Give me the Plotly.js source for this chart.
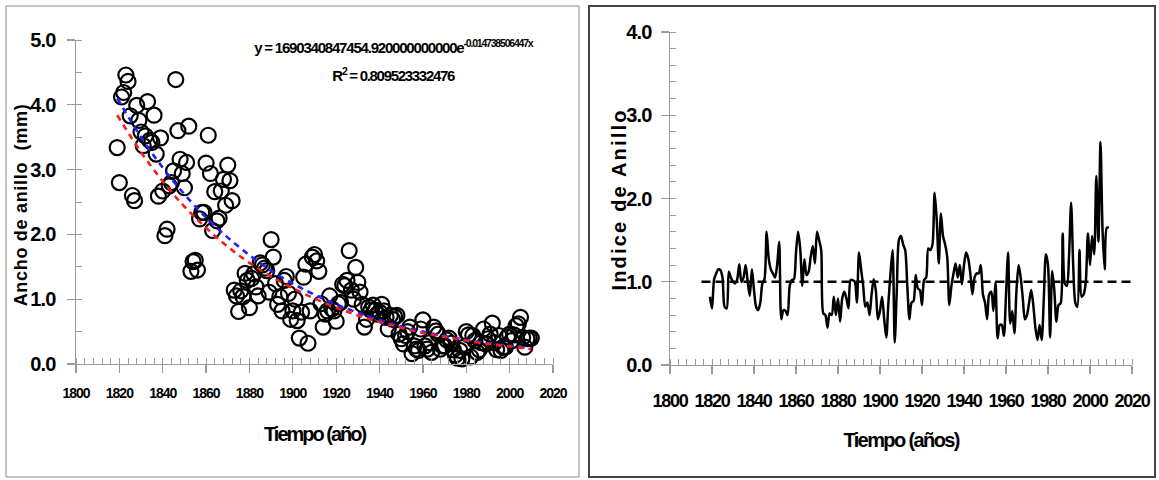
<!DOCTYPE html>
<html>
<head>
<meta charset="utf-8">
<script src="https://cdn.plot.ly/plotly-3.0.1.min.js"></script>
<style>
html,body{margin:0;padding:0;background:#fff;}
#chart{width:1159px;height:480px;}
g.annotation[data-index="0"] text{letter-spacing:-1.2px;}
g.annotation[data-index="1"] text{letter-spacing:-1.3px;}
g.annotation[data-index="2"] text{letter-spacing:-2px;}
g.annotation[data-index="3"] text{letter-spacing:0.7px;}
g.annotation[data-index="4"] text{letter-spacing:-1.6px;}
g.annotation[data-index="5"] text{letter-spacing:2.2px;}
g.xtick text{letter-spacing:-1px;}
g.x2tick text{letter-spacing:-1.3px;}
g.ytick text, g.y2tick text{letter-spacing:-0.8px;}
</style>
</head>
<body>
<div id="chart"></div>
<script>
// ---- Left panel: ring width (mm) ----
const widthYears = [1819,1820,1821,1822,1823,1824,1825,1826,1827,1828,1829,1830,1831,1832,1833,1834,1835,1836,1837,1838,1839,1840,1841,1842,1843,1844,1845,1846,1847,1848,1849,1850,1851,1852,1853,1854,1855,1856,1857,1858,1859,1860,1861,1862,1863,1864,1865,1866,1867,1868,1869,1870,1871,1872,1873,1874,1875,1876,1877,1878,1879,1880,1881,1882,1883,1884,1885,1886,1887,1888,1889,1890,1891,1892,1893,1894,1895,1896,1897,1898,1899,1900,1901,1902,1903,1904,1905,1906,1907,1908,1909,1910,1911,1912,1913,1914,1915,1916,1917,1918,1919,1920,1921,1922,1923,1924,1925,1926,1927,1928,1929,1930,1931,1932,1933,1934,1935,1936,1937,1938,1939,1940,1941,1942,1943,1944,1945,1946,1947,1948,1949,1950,1951,1952,1953,1954,1955,1956,1957,1958,1959,1960,1961,1962,1963,1964,1965,1966,1967,1968,1969,1970,1971,1972,1973,1974,1975,1976,1977,1978,1979,1980,1981,1982,1983,1984,1985,1986,1987,1988,1989,1990,1991,1992,1993,1994,1995,1996,1997,1998,1999,2000,2001,2002,2003,2004,2005,2006,2007,2008,2009,2010];
const ringWidth = [3.34,2.80,4.12,4.19,4.46,4.36,3.83,2.60,2.52,3.99,3.76,3.58,3.37,3.52,4.05,3.45,3.42,3.84,3.24,2.59,3.49,2.67,1.98,2.08,2.75,2.80,2.98,4.39,3.60,3.16,2.94,2.72,3.11,3.67,1.43,1.58,1.60,1.45,2.24,2.34,2.34,3.10,3.53,2.94,2.06,2.66,2.21,2.25,2.67,2.85,2.45,3.07,2.83,2.52,1.14,1.05,0.81,1.13,1.04,1.40,1.29,0.87,1.32,1.39,1.19,1.05,1.56,1.53,1.48,1.44,1.11,1.92,1.65,1.24,0.92,1.04,0.82,1.29,1.35,1.09,0.69,0.82,1.00,0.67,0.40,0.80,1.34,1.54,0.32,0.82,1.65,1.69,1.59,1.43,0.93,0.57,0.77,0.82,1.05,0.85,0.82,0.66,0.93,0.95,1.23,1.21,1.29,1.75,1.14,1.00,1.49,1.26,1.11,0.92,0.57,0.69,0.88,0.83,0.91,0.83,0.77,0.80,0.92,0.82,0.72,0.54,0.75,0.69,0.73,0.75,0.46,0.39,0.31,0.44,0.50,0.57,0.16,0.28,0.23,0.21,0.54,0.68,0.28,0.23,0.33,0.18,0.57,0.51,0.46,0.23,0.28,0.28,0.37,0.40,0.32,0.22,0.14,0.09,0.21,0.08,0.26,0.50,0.45,0.11,0.44,0.36,0.18,0.22,0.33,0.54,0.31,0.39,0.46,0.63,0.33,0.22,0.44,0.21,0.26,0.26,0.42,0.46,0.36,0.45,0.59,0.62,0.72,0.41,0.26,0.39,0.40,0.40];

// trend curves
const trendYears = [1819,1830,1840,1850,1860,1870,1880,1890,1900,1910,1920,1930,1940,1950,1960,1970,1980,1990,2000,2010];
const trendRed  = [3.84,3.27,2.82,2.43,2.10,1.81,1.56,1.35,1.17,1.01,0.87,0.75,0.65,0.56,0.48,0.42,0.36,0.31,0.27,0.23];
const trendBlue = [4.10,3.50,3.03,2.62,2.26,1.95,1.68,1.44,1.24,1.07,0.92,0.79,0.68,0.58,0.50,0.43,0.37,0.32,0.28,0.24];

// ---- Right panel: ring index ----
const indexYears = [1819,1820,1821,1822,1823,1824,1825,1826,1827,1828,1829,1830,1831,1832,1833,1834,1835,1836,1837,1838,1839,1840,1841,1842,1843,1844,1845,1846,1847,1848,1849,1850,1851,1852,1853,1854,1855,1856,1857,1858,1859,1860,1861,1862,1863,1864,1865,1866,1867,1868,1869,1870,1871,1872,1873,1874,1875,1876,1877,1878,1879,1880,1881,1882,1883,1884,1885,1886,1887,1888,1889,1890,1891,1892,1893,1894,1895,1896,1897,1898,1899,1900,1901,1902,1903,1904,1905,1906,1907,1908,1909,1910,1911,1912,1913,1914,1915,1916,1917,1918,1919,1920,1921,1922,1923,1924,1925,1926,1927,1928,1929,1930,1931,1932,1933,1934,1935,1936,1937,1938,1939,1940,1941,1942,1943,1944,1945,1946,1947,1948,1949,1950,1951,1952,1953,1954,1955,1956,1957,1958,1959,1960,1961,1962,1963,1964,1965,1966,1967,1968,1969,1970,1971,1972,1973,1974,1975,1976,1977,1978,1979,1980,1981,1982,1983,1984,1985,1986,1987,1988,1989,1990,1991,1992,1993,1994,1995,1996,1997,1998,1999,2000,2001,2002,2003,2004,2005,2006,2007,2008,2009];
const ringIndex = [0.82,0.68,1.03,1.10,1.15,1.14,1.05,0.70,0.68,1.12,1.05,1.00,0.98,1.03,1.21,1.00,1.05,1.20,1.00,0.83,1.15,0.90,0.70,0.66,0.75,0.98,1.03,1.60,1.28,1.15,1.10,1.05,1.20,1.48,0.55,0.66,0.65,0.60,0.95,1.02,1.03,1.35,1.60,1.40,0.95,1.27,1.08,1.12,1.30,1.43,1.22,1.60,1.50,1.38,0.62,0.60,0.45,0.62,0.60,0.82,0.60,0.80,0.52,0.80,0.88,0.80,0.68,1.02,1.02,1.00,0.75,1.35,1.15,0.95,0.70,0.75,0.60,0.85,1.03,0.90,0.55,0.65,0.82,0.55,0.33,0.75,1.10,1.38,0.27,0.90,1.50,1.55,1.45,1.38,0.95,0.55,0.75,0.77,1.08,0.92,0.90,0.72,1.02,1.05,1.40,1.38,1.45,2.07,1.75,1.22,1.82,1.55,1.45,1.30,0.72,0.95,1.10,1.22,1.05,1.20,0.97,1.20,1.35,1.28,1.10,0.85,1.05,1.10,1.10,1.20,0.85,0.75,0.55,0.85,0.88,0.65,1.00,0.32,0.48,0.48,0.35,0.85,1.35,0.50,0.65,0.38,0.90,1.20,1.05,0.80,0.55,0.60,0.75,0.90,0.72,0.45,0.30,0.48,0.30,0.80,1.33,1.20,0.33,1.13,0.90,0.52,0.72,0.74,1.58,0.98,0.95,1.30,1.95,1.20,0.75,0.70,1.38,0.82,0.85,1.00,1.58,1.20,1.55,1.33,2.27,1.48,2.68,1.60,1.15,1.65,1.65];
const meanLineYears = [1815, 2020];
const meanLineValue = [1.0, 1.0];

const xTicks = [1800,1820,1840,1860,1880,1900,1920,1940,1960,1980,2000,2020];

const W = 1159, H = 480;
const px = v => v / W;
const py = v => 1 - v / H;
const FONT = '"Liberation Sans", Arial, sans-serif';
const AX = '#9a9a9a';

const traces = [
  {x: widthYears, y: ringWidth, xaxis: 'x', yaxis: 'y', type: 'scatter', mode: 'markers', cliponaxis: false,
   marker: {symbol: 'circle-open', size: 15, color: '#000', line: {color: '#000', width: 2.2}}},
  {x: trendYears, y: trendBlue, xaxis: 'x', yaxis: 'y', type: 'scatter', mode: 'lines',
   line: {color: '#1f1fff', width: 2.6, dash: '6px,5px', shape: 'spline'}},
  {x: trendYears, y: trendRed, xaxis: 'x', yaxis: 'y', type: 'scatter', mode: 'lines',
   line: {color: '#ff1a1a', width: 2.6, dash: '6px,5px', shape: 'spline'}},
  {x: indexYears, y: ringIndex, xaxis: 'x2', yaxis: 'y2', type: 'scatter', mode: 'lines',
   line: {color: '#000', width: 2.5, shape: 'spline', smoothing: 0.8}},
  {x: meanLineYears, y: meanLineValue, xaxis: 'x2', yaxis: 'y2', type: 'scatter', mode: 'lines',
   line: {color: '#000', width: 2.6, dash: '9px,5px'}}
];

const baseX = {
  range: [1800, 2020], tickvals: xTicks, showgrid: false, zeroline: false,
  showline: true, linecolor: AX, linewidth: 1.3, tickangle: 0,
  ticks: 'outside', ticklen: 8, tickcolor: AX, tickwidth: 1.3,
  minor: {dtick: 4, tick0: 1800, ticks: 'inside', ticklen: 6, tickcolor: AX, tickwidth: 1}
};

const layout = {
  width: W, height: H,
  margin: {l: 0, r: 0, t: 0, b: 0},
  paper_bgcolor: '#fff', plot_bgcolor: 'rgba(0,0,0,0)',
  showlegend: false,
  xaxis: Object.assign({}, baseX, {
    domain: [px(76), px(553)], anchor: 'y', ticklabelstandoff: 8,
    tickfont: {family: FONT, size: 14, color: '#000', weight: 'bold'}
  }),
  yaxis: {
    domain: [py(364), py(40)], anchor: 'x', range: [0, 5], dtick: 1, tickformat: '.1f',
    showgrid: false, zeroline: false, showline: true, linecolor: AX, linewidth: 1.3,
    ticks: 'outside', ticklen: 8, tickcolor: AX, tickwidth: 1.3, ticklabelstandoff: 7,
    minor: {dtick: 0.5, ticks: 'inside', ticklen: 6, tickcolor: AX, tickwidth: 1},
    tickfont: {family: FONT, size: 20, color: '#000', weight: 'bold'}
  },
  xaxis2: Object.assign({}, baseX, {
    domain: [px(670), px(1132)], anchor: 'y2', ticklabelstandoff: 11,
    tickfont: {family: FONT, size: 18, color: '#000', weight: 'bold'}
  }),
  yaxis2: {
    domain: [py(365), py(32)], anchor: 'x2', range: [0, 4], dtick: 1, tickformat: '.1f',
    showgrid: false, zeroline: false, showline: true, linecolor: AX, linewidth: 1.3,
    ticks: 'outside', ticklen: 8, tickcolor: AX, tickwidth: 1.3, ticklabelstandoff: 5,
    minor: {dtick: 0.2, ticks: 'inside', ticklen: 6, tickcolor: AX, tickwidth: 1},
    tickfont: {family: FONT, size: 20, color: '#000', weight: 'bold'}
  },
  shapes: [
    {type: 'rect', xref: 'paper', yref: 'paper', x0: px(6), x1: px(579), y0: py(477), y1: py(6),
     line: {color: '#8a8a8a', width: 1}},
    {type: 'rect', xref: 'paper', yref: 'paper', x0: px(589), x1: px(1155), y0: py(477), y1: py(6),
     line: {color: '#444', width: 2}}
  ],
  annotations: [
    {xref: 'paper', yref: 'paper', x: px(393), y: py(47), xanchor: 'center', yanchor: 'middle', showarrow: false,
     text: 'y = 1690340847454.920000000000e<sup>-0.014738506447x</sup>',
     font: {family: FONT, size: 15, color: '#000', weight: 'bold'}},
    {xref: 'paper', yref: 'paper', x: px(393), y: py(74), xanchor: 'center', yanchor: 'middle', showarrow: false,
     text: 'R<sup>2</sup> = 0.809523332476',
     font: {family: FONT, size: 15, color: '#000', weight: 'bold'}},
    {xref: 'paper', yref: 'paper', x: px(314), y: py(434), xanchor: 'center', yanchor: 'middle', showarrow: false,
     text: 'Tiempo (año)', font: {family: FONT, size: 20, color: '#000', weight: 'bold'}},
    {xref: 'paper', yref: 'paper', x: px(21), y: py(205), xanchor: 'center', yanchor: 'middle', showarrow: false,
     textangle: -90, text: 'Ancho de anillo  (mm)', font: {family: FONT, size: 18, color: '#000', weight: 'bold'}},
    {xref: 'paper', yref: 'paper', x: px(901), y: py(440), xanchor: 'center', yanchor: 'middle', showarrow: false,
     text: 'Tiempo (años)', font: {family: FONT, size: 20, color: '#000', weight: 'bold'}},
    {xref: 'paper', yref: 'paper', x: px(619), y: py(200), xanchor: 'center', yanchor: 'middle', showarrow: false,
     textangle: -90, text: 'Indice de Anillo', font: {family: FONT, size: 20, color: '#000', weight: 'bold'}}
  ]
};

Plotly.newPlot('chart', traces, layout, {displayModeBar: false, staticPlot: true});
</script>
</body>
</html>
